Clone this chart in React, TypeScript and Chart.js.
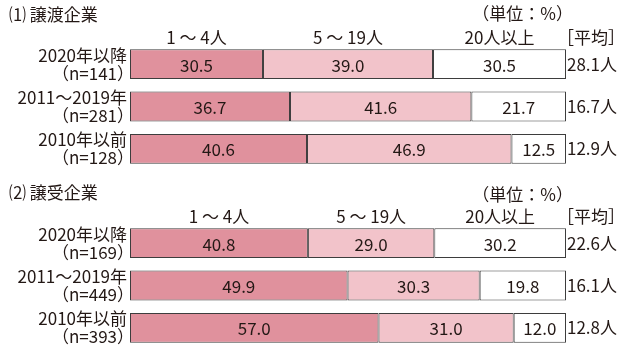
import React, { useEffect, useRef } from 'react';
import { Chart, registerables } from 'chart.js';
Chart.register(...registerables);

const FONT = "'Noto Sans CJK JP', 'Noto Sans', sans-serif";
const TEXT = '#231815';
const DARK = '#E0919D';
const LIGHT = '#F2C3CA';
const WHITE = '#FFFFFF';

const sizeCategories = ['1 ～ 4人', '5 ～ 19人', '20人以上'];
const periods = ['2020年以降', '2011～2019年', '2010年以前'];

const transferTitle = '⑴ 譲渡企業';
const transferN = ['141', '281', '128'];
const transferSmall = [30.5, 36.7, 40.6];
const transferMid = [39.0, 41.6, 46.9];
const transferLarge = [30.5, 21.7, 12.5];
const transferAvg = ['28.1', '16.7', '12.9'];

const acquirerTitle = '⑵ 譲受企業';
const acquirerN = ['169', '449', '393'];
const acquirerSmall = [40.8, 49.9, 57.0];
const acquirerMid = [29.0, 30.3, 31.0];
const acquirerLarge = [30.2, 19.8, 12.0];
const acquirerAvg = ['22.6', '16.1', '12.8'];

type Panel = {
  title: string;
  n: string[];
  small: number[];
  mid: number[];
  large: number[];
  avg: string[];
  top: number;
  height: number;
  padTop: number;
  padBottom: number;
  titleY: number;
  unitY: number;
  legendY: number;
};

const panels: Panel[] = [
  {
    title: transferTitle, n: transferN, small: transferSmall, mid: transferMid, large: transferLarge, avg: transferAvg,
    top: 0, height: 174, padTop: 43, padBottom: 4, titleY: 15, unitY: 14, legendY: 38,
  },
  {
    title: acquirerTitle, n: acquirerN, small: acquirerSmall, mid: acquirerMid, large: acquirerLarge, avg: acquirerAvg,
    top: 174, height: 180, padTop: 48, padBottom: 5, titleY: 19, unitY: 21, legendY: 43,
  },
];

function makePlugin(p: Panel) {
  return {
    id: 'panelLabels',
    afterDatasetsDraw(chart: any) {
      const ctx = chart.ctx;
      const xs = chart.scales.x;
      const ys = chart.scales.y;
      ctx.save();
      ctx.fillStyle = TEXT;
      ctx.font = `17px ${FONT}`;
      ctx.textBaseline = 'middle';
      ctx.textAlign = 'left';
      ctx.fillText(p.title, 9, p.titleY);
      ctx.textAlign = 'right';
      ctx.fillText('（単位：%）', 573, p.unitY);
      ctx.textAlign = 'left';
      ctx.fillText('［平均］', 557, p.legendY);
      let cum = 0;
      const first = [p.small[0], p.mid[0], p.large[0]];
      first.forEach((v, i) => {
        const cx = xs.getPixelForValue(cum + v / 2);
        cum += v;
        ctx.textAlign = 'center';
        ctx.fillText(sizeCategories[i], cx, p.legendY);
      });
      periods.forEach((lab, i) => {
        const cy = ys.getPixelForValue(i);
        ctx.textAlign = 'right';
        ctx.fillText(lab, 127, cy - 9);
        ctx.fillText(`（n=${p.n[i]}）`, 134, cy + 9);
        ctx.textAlign = 'left';
        ctx.fillText(`${p.avg[i]}人`, 567, cy);
      });
      chart.data.datasets.forEach((ds: any, di: number) => {
        const meta = chart.getDatasetMeta(di);
        meta.data.forEach((bar: any, i: number) => {
          const { x, base, y } = bar.getProps(['x', 'base', 'y'], true);
          ctx.textAlign = 'center';
          ctx.fillText(Number(ds.data[i]).toFixed(1), (x + base) / 2, y + 1);
        });
      });
      ctx.restore();
    },
  };
}

function PanelChart({ p }: { p: Panel }) {
  const ref = useRef<HTMLCanvasElement | null>(null);
  useEffect(() => {
    if (!ref.current) return;
    const mk = (label: string, data: number[], color: string) => ({
      label,
      data,
      backgroundColor: color,
      borderColor: '#3d3d3d',
      borderWidth: 1,
      borderSkipped: false,
      barPercentage: 1,
      categoryPercentage: 30 / 42.5,
    });
    const chart = new Chart(ref.current, {
      type: 'bar',
      data: {
        labels: periods,
        datasets: [
          mk(sizeCategories[0], p.small, DARK),
          mk(sizeCategories[1], p.mid, LIGHT),
          mk(sizeCategories[2], p.large, WHITE),
        ],
      },
      options: {
        indexAxis: 'y',
        responsive: false,
        animation: false,
        layout: { padding: { left: 130, right: 67, top: p.padTop, bottom: p.padBottom } },
        plugins: { legend: { display: false }, tooltip: { enabled: false }, title: { display: false } },
        scales: {
          x: { stacked: true, min: 0, max: 100, display: false },
          y: { stacked: true, display: false },
        },
      },
      plugins: [makePlugin(p)],
    } as any);
    return () => chart.destroy();
  }, [p]);
  return (
    <canvas
      ref={ref}
      width={633}
      height={p.height}
      style={{ position: 'absolute', left: 0, top: p.top, width: 633, height: p.height }}
    />
  );
}

export default function App() {
  return (
    <div style={{ position: 'fixed', left: 0, top: 0, width: 633, height: 348, overflow: 'hidden', background: '#fff' }}>
      {panels.map((p, i) => (
        <PanelChart key={i} p={p} />
      ))}
    </div>
  );
}
